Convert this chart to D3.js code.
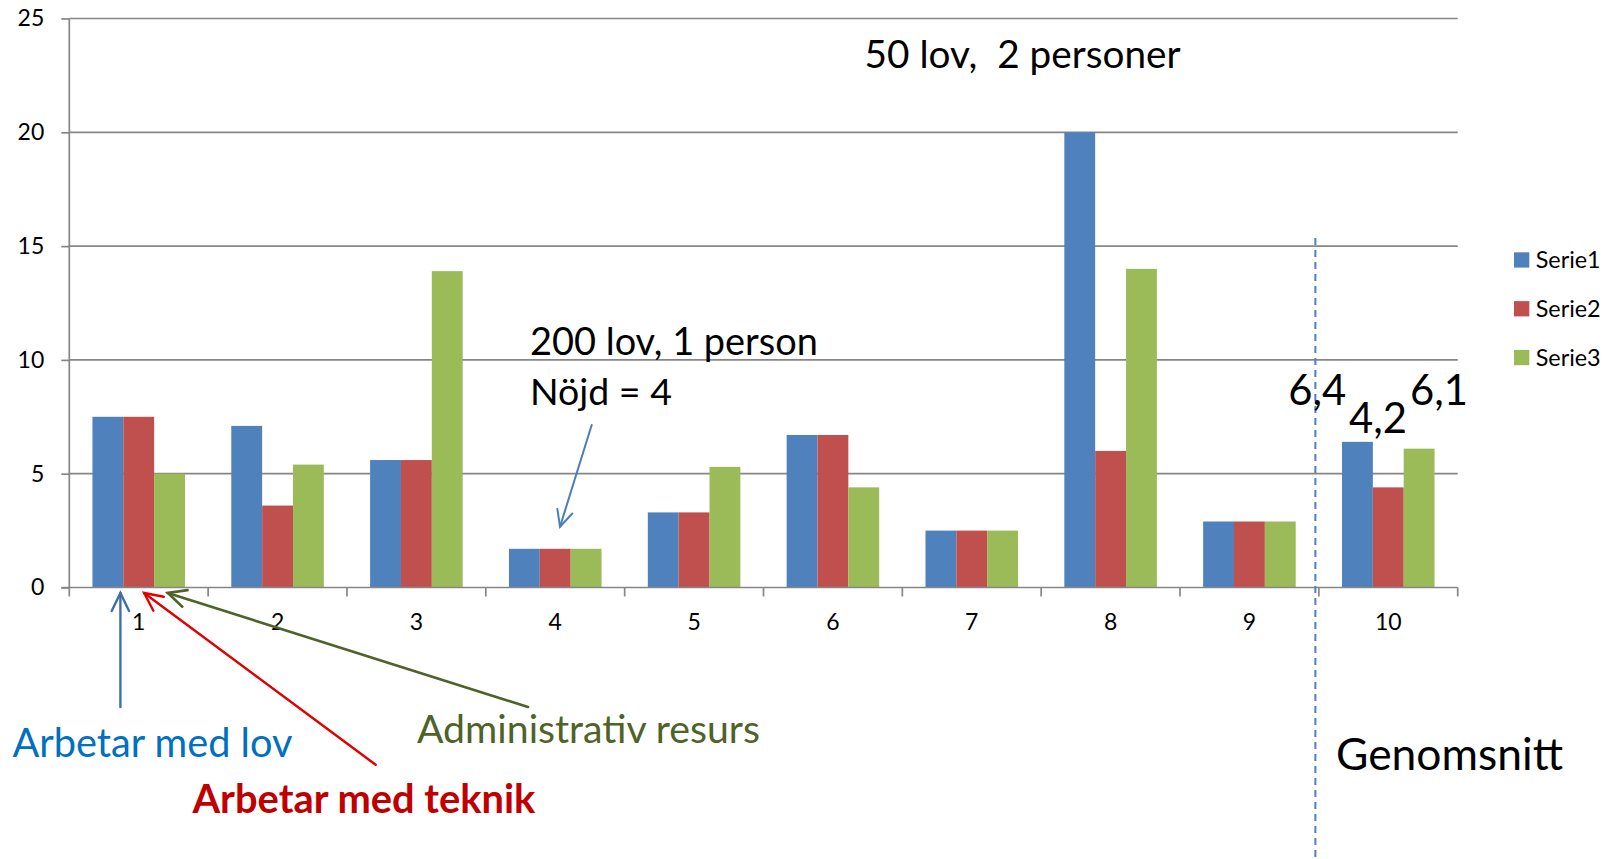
<!DOCTYPE html>
<html>
<head>
<meta charset="utf-8">
<script src="https://d3js.org/d3.v7.min.js"></script>
<style>
  body { margin: 0; background: #fff; }
  svg { display: block; font-family: Lato, "Open Sans", sans-serif; }
</style>
</head>
<body>
<svg id="chart" width="1614" height="859"></svg>
<script>
// data
var categories = ["1", "2", "3", "4", "5", "6", "7", "8", "9", "10"];
var seriesNames = ["Serie1", "Serie2", "Serie3"];
var serie1 = [7.5, 7.1, 5.6, 1.7, 3.3, 6.7, 2.5, 20, 2.9, 6.4];
var serie2 = [7.5, 3.6, 5.6, 1.7, 3.3, 6.7, 2.5, 6.0, 2.9, 4.4];
var serie3 = [5.0, 5.4, 13.9, 1.7, 5.3, 4.4, 2.5, 14.0, 2.9, 6.1];
var yTicks = [0, 5, 10, 15, 20, 25];
var averageLabels = ["6,4", "4,2", "6,1"];

var colors = ["#4f81bd", "#c0504d", "#9bbb59"];
var gridColor = "#868686";

function drawChart() {
var svg = d3.select("#chart"),
    left = 69.3, right = 1457.7, plotTop = 18.5, plotBottom = 587.5;

var x0 = d3.scaleBand().domain(categories).range([left, right]);
var x1 = d3.scaleBand().domain(seriesNames).range([0, x0.bandwidth()])
    .paddingInner(0).paddingOuter(0.75);
var y = d3.scaleLinear().domain([0, 25]).range([plotBottom, plotTop]);
var z = d3.scaleOrdinal().domain(seriesNames).range(colors);

var rows = categories.map(function(c, i) {
  return {cat: c, values: [serie1[i], serie2[i], serie3[i]]};
});

// helper: scale font so the text gets the width seen in the picture
function fit(sel, w) {
  sel.each(function() {
    var len = this.getComputedTextLength();
    var fs = parseFloat(d3.select(this).attr("font-size"));
    d3.select(this).attr("font-size", (fs * w / len).toFixed(2));
  });
  return sel;
}

// gridlines
svg.append("g")
  .selectAll("line")
  .data(yTicks.slice(1))
  .enter().append("line")
    .attr("x1", left).attr("x2", right)
    .attr("y1", function(d) { return y(d); })
    .attr("y2", function(d) { return y(d); })
    .attr("stroke", gridColor)
    .attr("stroke-width", 1.7);

// bars
svg.append("g")
  .selectAll("g")
  .data(rows)
  .enter().append("g")
    .attr("transform", function(d) { return "translate(" + x0(d.cat) + ",0)"; })
  .selectAll("rect")
  .data(function(d) { return d.values.map(function(v, i) { return {key: seriesNames[i], value: v}; }); })
  .enter().append("rect")
    .attr("x", function(d) { return x1(d.key); })
    .attr("y", function(d) { return y(d.value); })
    .attr("width", x1.bandwidth())
    .attr("height", function(d) { return y(0) - y(d.value); })
    .attr("fill", function(d) { return z(d.key); });

// y axis
var yAxis = svg.append("g")
    .attr("transform", "translate(" + left + ",0)")
    .call(d3.axisLeft(y).tickValues(yTicks).tickSize(8).tickPadding(17));
yAxis.select(".domain").remove();
yAxis.selectAll(".tick line").attr("stroke", gridColor).attr("stroke-width", 1.7);
yAxis.selectAll("text").attr("font-size", 23).attr("font-family", "Lato").attr("fill", "#000");
svg.append("line")
    .attr("x1", left).attr("x2", left)
    .attr("y1", plotTop).attr("y2", plotBottom)
    .attr("stroke", gridColor).attr("stroke-width", 1.7);

// x axis
var xAxis = svg.append("g")
    .attr("transform", "translate(0," + plotBottom + ")")
    .call(d3.axisBottom(x0).tickSize(0));
xAxis.select(".domain").remove();
xAxis.selectAll("text")
    .attr("dy", null)
    .attr("y", 42.5)
    .attr("font-size", 23)
    .attr("font-family", "Lato")
    .attr("fill", "#000");
svg.append("line")
    .attr("x1", left - 8).attr("x2", right)
    .attr("y1", plotBottom).attr("y2", plotBottom)
    .attr("stroke", gridColor).attr("stroke-width", 1.7);
svg.append("g")
  .selectAll("line")
  .data(categories.map(function(c) { return x0(c); }).concat([right]))
  .enter().append("line")
    .attr("x1", function(d) { return d; }).attr("x2", function(d) { return d; })
    .attr("y1", plotBottom).attr("y2", plotBottom + 9)
    .attr("stroke", gridColor).attr("stroke-width", 1.7);

// legend
var legend = svg.append("g")
  .selectAll("g")
  .data(seriesNames)
  .enter().append("g")
    .attr("transform", function(d, i) { return "translate(1514," + (252.3 + i * 48.8) + ")"; });
legend.append("rect")
    .attr("width", 15.3).attr("height", 15.3)
    .attr("fill", z);
legend.append("text")
    .attr("x", 21.7).attr("y", 7.7).attr("dy", "0.36em")
    .attr("font-size", 22)
    .text(function(d) { return d; });
fit(legend.selectAll("text"), 65);

// dashed separator before the average group
var sepX = x0("10") - 3.5;
svg.append("line")
    .attr("x1", sepX).attr("x2", sepX)
    .attr("y1", 238).attr("y2", 859)
    .attr("stroke", "#4f81bd").attr("stroke-width", 2)
    .attr("stroke-dasharray", "7,5");

// value labels for the average group
var avgPos = [[1288.3, 405], [1349, 433], [1410, 405]];
averageLabels.forEach(function(t, i) {
  fit(svg.append("text")
      .attr("x", avgPos[i][0]).attr("y", avgPos[i][1])
      .attr("font-size", 38)
      .text(t), 58);
});

// text annotations
function note(t, xp, yp, w, color, weight) {
  return fit(svg.append("text")
      .attr("x", xp).attr("y", yp)
      .attr("font-size", 38)
      .attr("fill", color || "#000")
      .attr("font-weight", weight || "normal")
      .style("white-space", "pre")
      .text(t), w);
}
note("50 lov,  2 personer", 864.6, 68.3, 316);
note("200 lov, 1 person", 530, 355, 288);
note("Nöjd = 4", 530, 405, 142);
note("Genomsnitt", 1336, 770, 227);
note("Arbetar med lov", 12.4, 756.5, 280, "#0070c0");
note("Administrativ resurs", 417, 743, 343, "#4f6228");
note("Arbetar med teknik", 192.5, 813, 343, "#c00000", "bold");

// arrows
function arrow(xa, ya, xb, yb, color, w, head) {
  var ang = Math.atan2(yb - ya, xb - xa), spread = 0.45;
  var g = svg.append("g")
      .attr("stroke", color).attr("stroke-width", w)
      .attr("fill", "none").attr("stroke-linecap", "round");
  g.append("line").attr("x1", xa).attr("y1", ya).attr("x2", xb).attr("y2", yb);
  g.append("path").attr("d", d3.line()([
    [xb - head * Math.cos(ang - spread), yb - head * Math.sin(ang - spread)],
    [xb, yb],
    [xb - head * Math.cos(ang + spread), yb - head * Math.sin(ang + spread)]
  ]));
}
arrow(591.7, 425, 560, 526.7, "#4a7ebb", 2, 18);
arrow(120.4, 707, 120.4, 593, "#3f6ea8", 2.4, 20);
arrow(375.7, 764.8, 144.1, 593, "#e00000", 2.4, 20);
arrow(528, 707, 167.8, 593, "#4f6228", 2.6, 20);
}
drawChart();
</script>
</body>
</html>
